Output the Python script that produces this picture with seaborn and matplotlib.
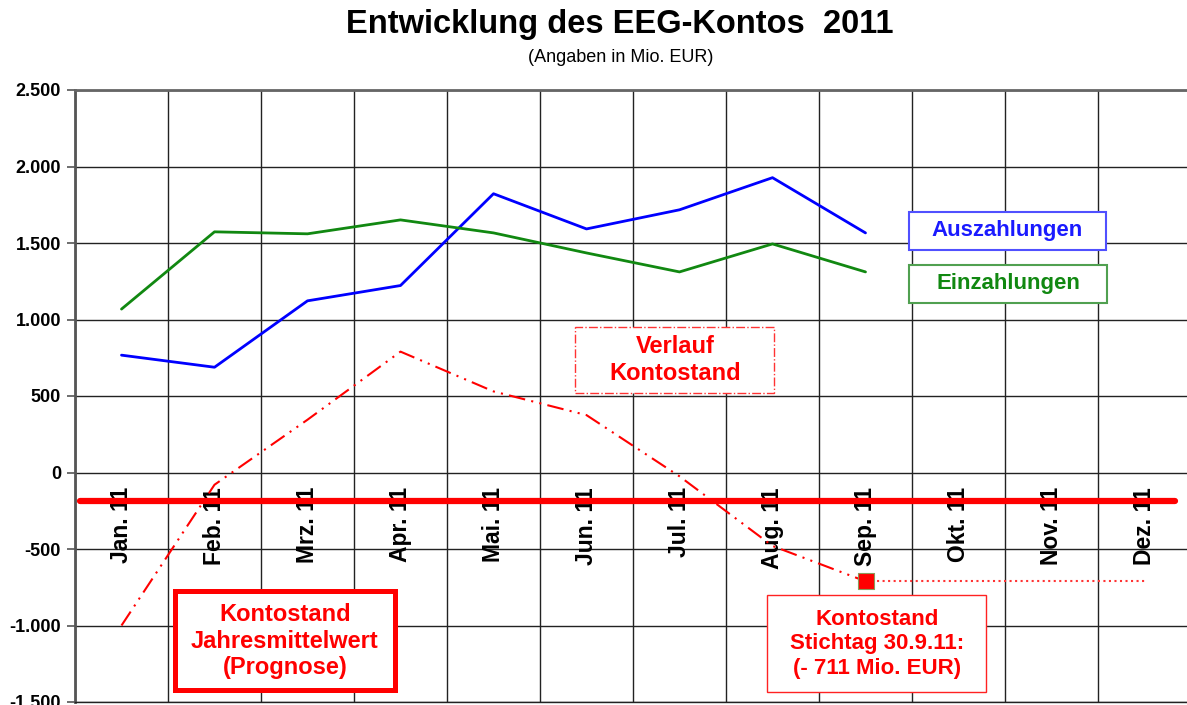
import numpy as np
import pandas as pd
import seaborn as sns
import matplotlib.pyplot as plt
from matplotlib.patches import Rectangle

# values (Mio. EUR)
months = ["Jan. 11", "Feb. 11", "Mrz. 11", "Apr. 11", "Mai. 11", "Jun. 11",
          "Jul. 11", "Aug. 11", "Sep. 11", "Okt. 11", "Nov. 11", "Dez. 11"]
auszahlungen = [767, 688, 1122, 1222, 1822, 1592, 1717, 1927, 1566]
einzahlungen = [1068, 1573, 1560, 1651, 1566, 1435, 1311, 1494, 1311]
kontostand = [-1000, -80, 345, 790, 530, 375, -25, -480, -711]
jahresmittel = -185
stichtag = -711
y_ticks = [-1500, -1000, -500, 0, 500, 1000, 1500, 2000, 2500]

sns.set_style("white")
plt.rcParams['font.family'] = ['Liberation Sans', 'DejaVu Sans']
plt.rcParams['text.color'] = 'black'
plt.rcParams['ytick.labelcolor'] = 'black'

W, H = 1187, 705
fig = plt.figure(figsize=(W / 100, H / 100), dpi=100)
ax = fig.add_axes([75 / W, 3 / H, 1116 / W, 612 / H])

df = pd.DataFrame({"monat": range(len(auszahlungen)),
                   "aus": auszahlungen, "ein": einzahlungen, "konto": kontostand})

sns.lineplot(data=df, x="monat", y="aus", color="#0000ff", lw=2, ax=ax, zorder=4)
sns.lineplot(data=df, x="monat", y="ein", color="#118811", lw=2, ax=ax, zorder=4)
sns.lineplot(data=df, x="monat", y="konto", color="#ff0000", lw=1.5,
             linestyle=(0, (8, 3, 1, 3, 1, 3)), ax=ax, zorder=4)

# Jahresmittelwert line
ax.axhline(jahresmittel, xmin=5 / 1116, xmax=1100 / 1116, color="#ff0000", lw=4.5, zorder=3)

# Stichtag marker + dotted continuation
i_sep = months.index("Sep. 11")
i_dez = months.index("Dez. 11")
ax.plot([i_sep, i_dez], [stichtag, stichtag], ls=":", color="#ff3333", lw=1.5, zorder=4)
sns.scatterplot(x=[i_sep], y=[stichtag], marker="s", s=120, color="#ff0000",
                edgecolor="#8a9a5b", linewidth=0.8, ax=ax, zorder=5)

# axes styling
ax.set_xlim(-0.5, 11.5)
ax.set_ylim(-1500, 2500)
ax.set_xticks(np.arange(-0.5, 12, 1))
ax.set_xticklabels([])
ax.tick_params(axis="x", length=0)
ax.set_yticks(y_ticks)
ax.set_yticklabels([f"{v:,}".replace(",", ".") for v in y_ticks], fontweight="bold",
                   fontsize=13, color="black")
ax.tick_params(axis="y", length=6, color="#555555", width=1.2, pad=4, left=True)
ax.grid(True, color="#222222", lw=1)
ax.set_axisbelow(True)
ax.set_xlabel("")
ax.set_ylabel("")
ax.spines["right"].set_visible(False)
ax.spines["left"].set_color("#555555")
ax.spines["left"].set_linewidth(2)
ax.spines["top"].set_color("#666666")
ax.spines["top"].set_linewidth(2)
ax.spines["bottom"].set_color("#222222")
ax.spines["bottom"].set_linewidth(1)

# month labels inside the plot
for i, m in enumerate(months):
    ax.text(i, -95, m, rotation=90, ha="center", va="top", fontsize=16.5,
            fontweight="bold", color="black", zorder=2)


def px_box(x0, y0, x1, y1, ec, lw, ls="-"):
    fig.add_artist(Rectangle((x0 / W, 1 - y1 / H), (x1 - x0) / W, (y1 - y0) / H,
                             transform=fig.transFigure, fc="white", ec=ec, lw=lw,
                             ls=ls, zorder=10))


def px_text(x, y, s, **kw):
    fig.text(x / W, 1 - y / H, s, ha="center", va="center", zorder=11, **kw)


px_box(909, 212, 1106, 250, "#5050ff", 1.5)
px_text(1007, 231, "Auszahlungen", color="#1a1aff", fontsize=16, fontweight="bold")

px_box(909, 265, 1107, 303, "#50a050", 1.5)
px_text(1008, 284, "Einzahlungen", color="#118811", fontsize=16, fontweight="bold")

px_box(575, 327, 774, 393, "#ff3333", 1, "-.")
px_text(675, 360, "Verlauf\nKontostand", color="#ff0000", fontsize=17,
        fontweight="bold", linespacing=1.2)

px_box(175, 591, 395, 690, "#ff0000", 3.6)
px_text(285, 641, "Kontostand\nJahresmittelwert\n(Prognose)", color="#ff0000",
        fontsize=17, fontweight="bold", linespacing=1.2)

px_box(767, 595, 986, 692, "#ff2222", 1)
px_text(877, 644, "Kontostand\nStichtag 30.9.11:\n(- 711 Mio. EUR)", color="#ff0000",
        fontsize=16, fontweight="bold", linespacing=1.22)

# title
fig.text(620 / W, 1 - 25 / H, "Entwicklung des EEG-Kontos  2011", fontsize=23.5,
         fontweight="bold", ha="center", va="center")
fig.text(621 / W, 1 - 57 / H, "(Angaben in Mio. EUR)", fontsize=13,
         ha="center", va="center")

fig.savefig("out.png", dpi=100)
